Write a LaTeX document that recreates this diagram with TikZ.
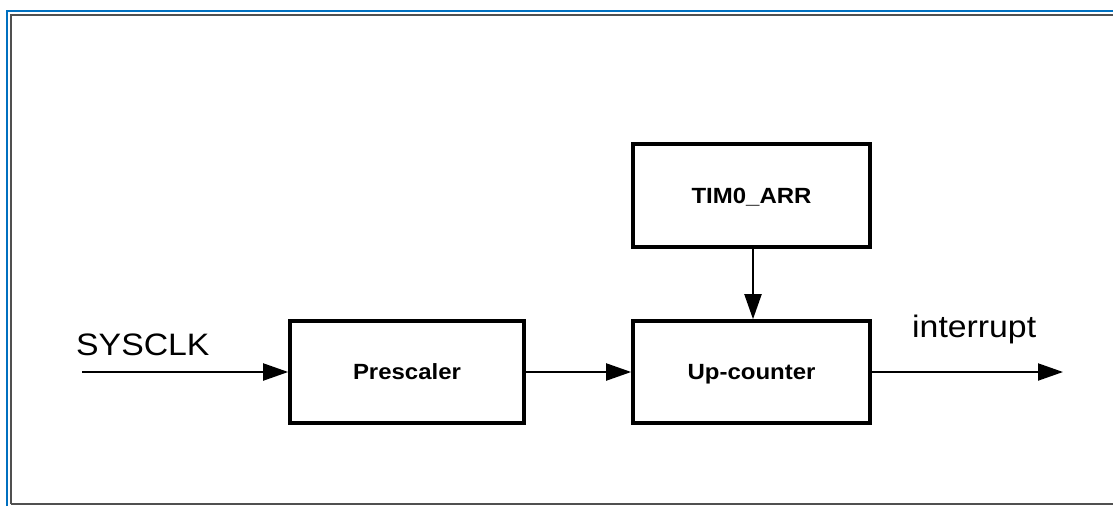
\documentclass[tikz,border=0pt]{standalone}
\usepackage{fontspec}
\setmainfont{Liberation Sans}[FakeStretch=1.09]
\usetikzlibrary{arrows.meta}
\definecolor{frameblue}{HTML}{0070C0}
\definecolor{framegray}{HTML}{505050}
\tikzset{
  blockbox/.style={draw=black, line width=3.6pt, minimum width=235pt, minimum height=102pt, inner sep=0pt, text height=15.8pt, text depth=0pt, font=\fontsize{22}{24}\selectfont\bfseries},
  sigline/.style={line width=2pt, -{Triangle[length=25pt,width=17pt]}},
  siglabel/.style={font=\fontsize{31}{34}\selectfont, inner sep=0pt, anchor=base west}
}
\begin{document}
\begin{tikzpicture}[x=1pt,y=-1pt]
\useasboundingbox (0,0) rectangle (1113,506);
\fill[white] (0,0) rectangle (1113,506);
% page frame
\draw[frameblue, line width=2.5pt] (7,506) -- (7,11) -- (1113,11);
\draw[framegray, line width=1.6pt] (11,504) -- (11,15) -- (1113,15);
\draw[framegray, line width=1.6pt] (11,504) -- (1113,504);
% blocks
\node[blockbox, minimum width=234pt] (pre) at (407,372) {Prescaler};
\node[blockbox, minimum width=237pt] (up) at (751.5,372) {Up-counter};
\node[blockbox, minimum width=237pt, minimum height=103pt] (arr) at (751.5,195.5) {TIM0\_ARR};
% free ends
\coordinate (in) at (82,372);
\coordinate (out) at (1063,372);
% connectors
\draw[sigline] (in) -- (pre.west);
\draw[sigline] (pre.east) -- (up.west);
\draw[sigline] (arr.south -| 753,0) -- (up.north -| 753,0);
\draw[sigline] (up.east) -- (out);
% labels
\node[siglabel] (sys) at (76,355) {SYSCLK};
\node[siglabel] (irq) at (912,337) {interrupt};
\end{tikzpicture}
\end{document}
